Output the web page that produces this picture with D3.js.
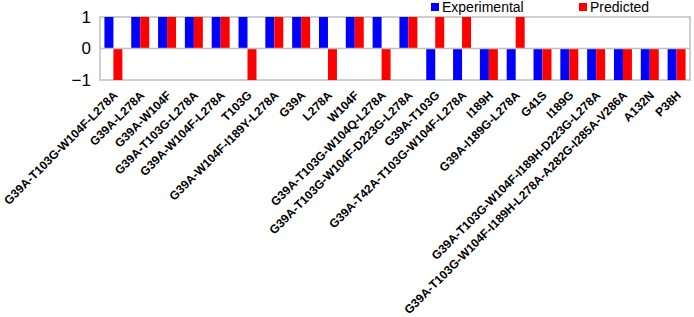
<!DOCTYPE html>
<html>
<head>
<meta charset="utf-8">
<script src="https://cdn.jsdelivr.net/npm/d3@7"></script>
<style>
  html, body { margin: 0; padding: 0; background: #fff; }
  svg { display: block; font-family: "Liberation Sans", Arial, sans-serif; }
</style>
</head>
<body>
<div id="chart"></div>
<script>
const categories = [
  "G39A-T103G-W104F-L278A",
  "G39A-L278A",
  "G39A-W104F",
  "G39A-T103G-L278A",
  "G39A-W104F-L278A",
  "T103G",
  "G39A-W104F-I189Y-L278A",
  "G39A",
  "L278A",
  "W104F",
  "G39A-T103G-W104Q-L278A",
  "G39A-T103G-W104F-D223G-L278A",
  "G39A-T103G",
  "G39A-T42A-T103G-W104F-L278A",
  "I189H",
  "G39A-I189G-L278A",
  "G41S",
  "I189G",
  "G39A-T103G-W104F-I189H-D223G-L278A",
  "G39A-T103G-W104F-I189H-L278A-A282G-I285A-V286A",
  "A132N",
  "P38H"
]
const experimental = [1, 1, 1, 1, 1, 1, 1, 1, 1, 1, 1, 1, -1, -1, -1, -1, -1, -1, -1, -1, -1, -1]
const predicted = [-1, 1, 1, 1, 1, -1, 1, 1, -1, 1, -1, 1, 1, 1, -1, 1, -1, -1, -1, -1, -1, -1]
const yTicks = [-1, 0, 1]
const seriesNames = ["Experimental", "Predicted"]

const expColor = "#0000FF"
const predColor = "#FF0000"
const frameColor = "#BFBFBF"

const dimensions = {
  width: 694,
  height: 317,
  margin: { top: 17, right: 4, bottom: 237, left: 100 },
}
dimensions.boundedWidth = dimensions.width - dimensions.margin.left - dimensions.margin.right
dimensions.boundedHeight = dimensions.height - dimensions.margin.top - dimensions.margin.bottom

const rows = categories.map((name, i) => ({ name, exp: experimental[i], pred: predicted[i] }))

const wrapper = d3.select("#chart")
  .append("svg")
    .attr("width", dimensions.width)
    .attr("height", dimensions.height)

const bounds = wrapper.append("g")
  .attr("transform", `translate(${dimensions.margin.left},${dimensions.margin.top})`)

// scales
const xScale = d3.scaleBand()
  .domain(categories)
  .range([0, dimensions.boundedWidth])
  .paddingInner(0.33)
  .paddingOuter(0.165)

const subScale = d3.scaleBand()
  .domain(seriesNames)
  .range([0, xScale.bandwidth()])

const yScale = d3.scaleLinear()
  .domain([-1, 1])
  .range([dimensions.boundedHeight, 0])

// frame
bounds.append("rect")
  .attr("width", dimensions.boundedWidth)
  .attr("height", dimensions.boundedHeight)
  .attr("fill", "none")
  .attr("stroke", frameColor)
  .attr("stroke-width", 1.5)

// bars
const groups = bounds.selectAll(".group")
  .data(rows)
  .join("g")
    .attr("transform", d => `translate(${xScale(d.name)},0)`)

groups.append("rect")
  .attr("x", subScale("Experimental"))
  .attr("width", subScale.bandwidth())
  .attr("y", d => yScale(Math.max(0, d.exp)))
  .attr("height", d => Math.abs(yScale(d.exp) - yScale(0)))
  .attr("fill", expColor)

groups.append("rect")
  .attr("x", subScale("Predicted"))
  .attr("width", subScale.bandwidth())
  .attr("y", d => yScale(Math.max(0, d.pred)))
  .attr("height", d => Math.abs(yScale(d.pred) - yScale(0)))
  .attr("fill", predColor)

// zero line
bounds.append("line")
  .attr("x1", 0)
  .attr("x2", dimensions.boundedWidth)
  .attr("y1", yScale(0))
  .attr("y2", yScale(0))
  .attr("stroke", frameColor)
  .attr("stroke-width", 1.5)

// y axis
const yAxis = bounds.append("g")
  .call(d3.axisLeft(yScale).tickValues(yTicks).tickFormat(d3.format("d")).tickSize(0).tickPadding(9))
yAxis.select(".domain").remove()
yAxis.selectAll("text")
  .attr("font-size", 17)
  .attr("font-family", "Liberation Sans, Arial, sans-serif")
  .attr("fill", "#000")

// x labels, rotated so they end under each group
const xAxis = bounds.append("g")
  .attr("transform", `translate(0,${dimensions.boundedHeight})`)
  .call(d3.axisBottom(xScale).tickSize(0).tickPadding(0))
xAxis.select(".domain").remove()
xAxis.selectAll("text")
  .attr("font-size", 12)
  .attr("font-weight", "bold")
  .attr("font-family", "Liberation Sans, Arial, sans-serif")
  .attr("fill", "#000")
  .attr("text-anchor", "end")
  .attr("dy", null)
  .attr("y", 0)
  .attr("transform", "translate(5,16) rotate(-45)")

// legend
const legend = wrapper.append("g")
const legendItems = [
  { name: seriesNames[0], color: expColor, x: 431 },
  { name: seriesNames[1], color: predColor, x: 579 },
]
legendItems.forEach(item => {
  legend.append("rect")
    .attr("x", item.x)
    .attr("y", 3)
    .attr("width", 8)
    .attr("height", 8)
    .attr("fill", item.color)
  legend.append("text")
    .attr("x", item.x + 11)
    .attr("y", 12)
    .attr("font-size", 14)
    .attr("fill", "#000")
    .text(item.name)
})
</script>
</body>
</html>
